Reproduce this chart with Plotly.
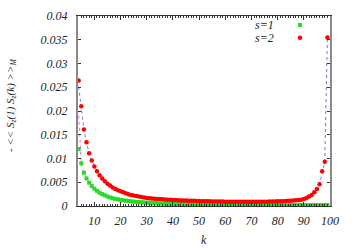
import plotly.graph_objects as go

k = list(range(4, 100))

s1 = [0.0120, 0.0090, 0.0070, 0.0058, 0.0049, 0.0042, 0.00365, 0.0032, 0.0028, 0.0025, 0.00225, 0.0020, 0.0018, 0.00165,
      0.0015, 0.0014, 0.0013, 0.0012, 0.00112, 0.00105, 0.00098, 0.00092, 0.00087, 0.00082, 0.00078, 0.00074, 0.0007,
      0.00067, 0.00064, 0.00061, 0.00058, 0.00056, 0.00054, 0.00052, 0.0005, 0.00048, 0.00047, 0.00045, 0.00044, 0.00043, 0.00042, 0.00041,
      0.0004, 0.00039, 0.00038, 0.00037, 0.00036, 0.00035, 0.00034, 0.00033, 0.00032, 0.00031, 0.0003, 0.00029, 0.00029, 0.00028, 0.00028,
      0.00027, 0.00027, 0.00026, 0.00026, 0.00025, 0.00025, 0.00024, 0.00024, 0.00023, 0.00023, 0.00022, 0.00022, 0.00022, 0.00021, 0.00021,
      0.00021, 0.0002, 0.0002, 0.0002, 0.0002, 0.0002, 0.0002, 0.0002, 0.0002, 0.0002, 0.0002, 0.0002, 0.0002,
      0.0002, 0.0002, 0.0002, 0.0002, 0.0002, 0.0002, 0.0002, 0.0002, 0.0002, 0.0002, 0.0002]

s2 = [0.0264, 0.0210, 0.0161, 0.0134, 0.0111, 0.0096, 0.0083, 0.0073, 0.0065, 0.0058, 0.0052, 0.0047, 0.0043, 0.0039,
      0.0036, 0.0033, 0.0031, 0.0029, 0.0027, 0.0025, 0.0023, 0.0022, 0.0021, 0.0020, 0.0019, 0.0018, 0.0017,
      0.00165, 0.0016, 0.00155, 0.0015, 0.00145, 0.0014, 0.00136, 0.00133, 0.0013, 0.00127, 0.00124, 0.00121, 0.00118, 0.00116, 0.00114,
      0.00112, 0.0011, 0.00108, 0.00106, 0.00104, 0.00102, 0.001, 0.00099, 0.00098, 0.00097, 0.00096, 0.00095, 0.00094, 0.00093, 0.00092,
      0.00091, 0.0009, 0.0009, 0.00089, 0.00089, 0.00088, 0.00088, 0.00088, 0.00088, 0.00088, 0.00089, 0.00089, 0.0009, 0.0009, 0.00091,
      0.00092, 0.00093, 0.00094, 0.00096, 0.00098, 0.001, 0.00102, 0.00105, 0.00108, 0.00111, 0.00115, 0.0012, 0.00125,
      0.0013, 0.0015, 0.0017, 0.0020, 0.0023, 0.0029, 0.0036, 0.0046, 0.0073, 0.0093, 0.0355]

theory_s1 = [0.0190] + s1[1:]
theory_s2 = [0.0251] + s2[1:]

x_ticks = [10, 20, 30, 40, 50, 60, 70, 80, 90, 100]
y_ticks = [0, 0.005, 0.01, 0.015, 0.02, 0.025, 0.03, 0.035, 0.04]
y_tick_text = ["0", "0.005", "0.01", "0.015", "0.02", "0.025", "0.03", "0.035", "0.04"]
series_names = ["s=1", "s=2"]

serif = "Liberation Serif"
W, H = 354, 248
L, R, T, B = 78, 24, 16, 42
pw, ph = W - L - R, H - T - B


def px(xp):
    return (xp - L) / pw


def py(yp):
    return (H - B - yp) / ph


fig = go.Figure()
fig.add_trace(go.Scatter(x=k, y=theory_s1, mode="lines", showlegend=False,
                         line=dict(color="#e070e0", width=1, dash="dot"), hoverinfo="skip"))
fig.add_trace(go.Scatter(x=k, y=theory_s2, mode="lines", showlegend=False,
                         line=dict(color="#7070ff", width=1, dash="dot"), hoverinfo="skip"))
fig.add_trace(go.Scatter(x=k, y=s1, mode="markers", name=" ", legend="legend",
                         marker=dict(symbol="square", size=4, color="#22dd22", line=dict(width=0))))
fig.add_trace(go.Scatter(x=k, y=s2, mode="markers", name=" ", legend="legend2",
                         marker=dict(symbol="circle", size=4.5, color="#ff0000", line=dict(width=0))))

axis_font = dict(family=serif, size=12, color="#222", style="italic")

fig.update_layout(
    width=W, height=H,
    margin=dict(l=L, r=R, t=T, b=B, autoexpand=False),
    paper_bgcolor="white", plot_bgcolor="white",
    font=dict(family=serif, size=12, color="#222"),
    xaxis=dict(range=[3.75, 100], tickvals=x_ticks, ticks="inside", ticklen=4, tickcolor="#333",
               showline=True, linecolor="#333", linewidth=1, mirror="allticks",
               showgrid=False, zeroline=False, tickfont=axis_font, ticklabelstandoff=4,
               minor=dict(dtick=1, ticks="inside", ticklen=2, tickcolor="#333", showgrid=False)),
    yaxis=dict(range=[0, 0.04], tickvals=y_ticks, ticktext=y_tick_text, ticks="inside", ticklen=3,
               tickcolor="#333", showline=True, linecolor="#888", linewidth=2, mirror="allticks",
               showgrid=False, zeroline=False, tickfont=axis_font, ticklabelstandoff=6),
    legend=dict(x=px(280), y=py(25), xanchor="left", yanchor="middle", bgcolor="rgba(0,0,0,0)",
                font=dict(size=8), itemwidth=30, tracegroupgap=0),
    legend2=dict(x=px(280), y=py(37.7), xanchor="left", yanchor="middle", bgcolor="rgba(0,0,0,0)",
                 font=dict(size=8), itemwidth=30, tracegroupgap=0),
    annotations=[
        dict(text=series_names[0], x=px(276), y=py(25), xref="paper", yref="paper", showarrow=False,
             xanchor="right", yanchor="middle", font=dict(family=serif, size=12, style="italic", color="#222")),
        dict(text=series_names[1], x=px(276), y=py(37.7), xref="paper", yref="paper", showarrow=False,
             xanchor="right", yanchor="middle", font=dict(family=serif, size=12, style="italic", color="#222")),
        dict(text="k", x=px(203.7), y=py(240), xref="paper", yref="paper", showarrow=False,
             xanchor="center", yanchor="middle", font=dict(family=serif, size=12, style="italic", color="#222")),
        dict(text="- << S<sub>z</sub>(1) S<sub>z</sub>(k) >><sub>M</sub>", x=px(11), y=py(106),
             xref="paper", yref="paper", showarrow=False, textangle=-90,
             xanchor="center", yanchor="middle", font=dict(family=serif, size=11, style="italic", color="#222")),
    ],
)

fig.write_html("out.html", config={"displayModeBar": False},
               post_script="document.body.style.margin='0';")
